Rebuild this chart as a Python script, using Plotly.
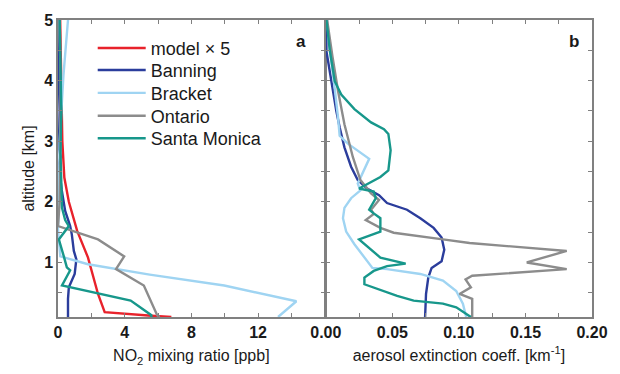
import plotly.graph_objects as go

# ---------------- data ----------------
series_names = ["model × 5", "Banning", "Bracket", "Ontario", "Santa Monica"]
series_colors = ["#e8222b", "#2b3d9c", "#9fd4f2", "#8c8c8c", "#17978b"]

# Panel a: NO2 mixing ratio [ppb] vs altitude [km]
no2_model_alt = [0.1, 0.12, 0.18, 0.48, 1.08, 1.52, 2.0, 2.4, 3.0, 3.5, 4.0, 4.5, 5.0]
no2_model_val = [6.8, 5.6, 2.8, 2.4, 1.8, 1.15, 0.65, 0.38, 0.26, 0.22, 0.18, 0.15, 0.13]

no2_banning_alt = [0.1, 0.4, 0.59, 0.81, 1.05, 1.19, 1.46, 1.6, 1.85, 2.2, 2.6, 2.75, 2.9, 3.5, 4.0, 4.5, 5.0]
no2_banning_val = [0.6, 0.6, 0.65, 1.0, 1.1, 0.95, 0.83, 0.73, 0.43, 0.22, 0.05, 0.15, 0.05, 0.1, 0.05, 0.08, 0.1]

no2_bracket_alt = [0.1, 0.36, 0.62, 0.8, 0.97, 1.05, 1.1, 1.55, 2.0, 3.0, 4.1, 5.0]
no2_bracket_val = [13.2, 14.3, 9.97, 5.5, 1.8, 0.83, 0.14, 0.0, 0.05, 0.1, 0.33, 0.6]

no2_ontario_alt = [0.1, 0.13, 0.62, 0.89, 1.1, 1.38, 1.6, 2.0, 3.0, 4.0, 5.0]
no2_ontario_val = [6.1, 5.95, 5.15, 3.48, 3.97, 2.4, 0.0, 0.1, 0.15, 0.15, 0.1]

no2_sm_alt = [0.1, 0.13, 0.37, 0.62, 0.87, 0.92, 1.1, 1.38, 1.6, 1.7, 1.9, 2.2, 2.8, 3.5, 4.2, 5.0]
no2_sm_val = [5.6, 5.6, 4.36, 0.24, 0.73, 0.53, 0.35, 0.05, 0.65, 0.43, 0.24, 0.2, 0.15, 0.2, 0.15, 0.1]

# Panel b: aerosol extinction coefficient [km^-1] vs altitude [km]
ext_banning_alt = [0.1, 0.48, 0.75, 0.91, 1.02, 1.21, 1.41, 1.57, 1.73, 1.87, 1.98, 2.11, 2.22, 2.36, 2.58, 2.9, 3.23, 3.5, 3.99, 4.48, 5.0]
ext_banning_val = [0.0746, 0.0753, 0.077, 0.0795, 0.087, 0.089, 0.087, 0.081, 0.071, 0.061, 0.046, 0.04, 0.031, 0.024, 0.019, 0.014, 0.0104, 0.0079, 0.0042, 0.0005, 0.0003]

ext_bracket_alt = [0.1, 0.32, 0.53, 0.70, 0.81, 0.89, 0.91, 1.08, 1.3, 1.51, 1.73, 1.9, 2.06, 2.19, 2.30, 2.71, 2.96, 3.09, 3.39, 4.0, 4.5, 5.0]
ext_bracket_val = [0.1055, 0.103, 0.098, 0.088, 0.071, 0.046, 0.035, 0.0289, 0.0215, 0.0153, 0.0129, 0.014, 0.019, 0.026, 0.024, 0.0326, 0.0166, 0.0104, 0.0092, 0.006, 0.003, 0.001]

ext_ontario_alt = [0.1, 0.40, 0.48, 0.59, 0.72, 0.78, 0.89, 1.0, 1.19, 1.30, 1.32, 1.38, 1.49, 1.57, 1.70, 1.80, 1.87, 2.03, 2.14, 2.36, 2.74, 3.28, 3.83, 4.4, 5.0]
ext_ontario_val = [0.110, 0.110, 0.1005, 0.109, 0.105, 0.110, 0.181, 0.151, 0.181, 0.114, 0.108, 0.088, 0.051, 0.041, 0.030, 0.036, 0.034, 0.040, 0.034, 0.026, 0.0203, 0.014, 0.0092, 0.005, 0.001]

ext_sm_alt = [0.1, 0.13, 0.26, 0.32, 0.37, 0.45, 0.56, 0.64, 0.75, 0.86, 0.94, 0.98, 1.08, 1.21, 1.38, 1.51, 1.73, 1.81, 1.87, 2.06, 2.17, 2.22, 2.3, 2.41, 2.52, 2.85, 3.12, 3.2, 3.31, 3.45, 3.53, 3.77, 3.99, 4.5, 5.0]
ext_sm_val = [0.109, 0.107, 0.098, 0.088, 0.066, 0.0536, 0.0388, 0.029, 0.029, 0.036, 0.046, 0.060, 0.041, 0.034, 0.025, 0.041, 0.041, 0.036, 0.0326, 0.0376, 0.036, 0.025, 0.0314, 0.041, 0.047, 0.0487, 0.047, 0.0437, 0.034, 0.026, 0.0215, 0.0116, 0.0067, 0.003, 0.0005]

no2_ticks = [0, 4, 8, 12]
ext_ticks = [0.00, 0.05, 0.10, 0.15, 0.20]
ext_ticktext = ["0.00", "0.05", "0.10", "0.15", "0.20"]
alt_ticks = [1, 2, 3, 4, 5]

# ---------------- figure ----------------
fig = go.Figure()
lw = 2.4
legend_ids = ["legend", "legend2", "legend3", "legend4", "legend5"]

panel_a = [
    (no2_model_val, no2_model_alt),
    (no2_banning_val, no2_banning_alt),
    (no2_bracket_val, no2_bracket_alt),
    (no2_ontario_val, no2_ontario_alt),
    (no2_sm_val, no2_sm_alt),
]
for i, (xv, yv) in enumerate(panel_a):
    fig.add_trace(go.Scatter(x=xv, y=yv, mode="lines", name=series_names[i],
                             line=dict(color=series_colors[i], width=lw),
                             xaxis="x", yaxis="y", legend=legend_ids[i]))

panel_b = [
    (ext_banning_val, ext_banning_alt, 1),
    (ext_bracket_val, ext_bracket_alt, 2),
    (ext_ontario_val, ext_ontario_alt, 3),
    (ext_sm_val, ext_sm_alt, 4),
]
for xv, yv, ci in panel_b:
    fig.add_trace(go.Scatter(x=xv, y=yv, mode="lines", name=series_names[ci],
                             line=dict(color=series_colors[ci], width=lw),
                             xaxis="x2", yaxis="y2", showlegend=False))

axcol = "#808080"
fam = "Liberation Sans, Arial, sans-serif"
tickfont = dict(family=fam, size=16, color="#1a1a1a", weight="bold")
titlefont = dict(family=fam, size=16, color="#1a1a1a")
common = dict(showline=True, linecolor=axcol, linewidth=1.5, mirror="ticks",
              ticks="inside", ticklen=4, tickcolor=axcol, tickwidth=1,
              showgrid=False, zeroline=False, tickfont=tickfont)

legend_tops = [0.967, 0.893, 0.816, 0.739, 0.663]
legend_layout = {}
for lid, ytop in zip(legend_ids, legend_tops):
    legend_layout[lid] = dict(x=0.065, y=ytop, xanchor="left", yanchor="top",
                              bgcolor="rgba(0,0,0,0)", borderwidth=0, itemwidth=48,
                              font=dict(family=fam, size=18, color="#1a1a1a"))

fig.update_layout(
    width=620, height=374,
    margin=dict(l=58, r=21, t=20, b=54),
    paper_bgcolor="white", plot_bgcolor="white",
    font=dict(family=fam, color="#1a1a1a"),
    xaxis=dict(domain=[0, 0.4995], range=[0, 16], tickvals=no2_ticks,
               minor=dict(dtick=2, ticks="inside", ticklen=4, tickcolor=axcol),
               title=dict(text="NO<sub>2</sub> mixing ratio [ppb]", font=titlefont, standoff=10),
               anchor="y", **common),
    yaxis=dict(domain=[0, 1], range=[0.1, 5], tickvals=alt_ticks,
               minor=dict(dtick=0.5, ticks="inside", ticklen=4, tickcolor=axcol),
               title=dict(text="altitude [km]", font=titlefont, standoff=6),
               anchor="x", **common),
    xaxis2=dict(domain=[0.5015, 1], range=[0, 0.2], tickvals=ext_ticks, ticktext=ext_ticktext,
                minor=dict(dtick=0.025, ticks="inside", ticklen=4, tickcolor=axcol),
                title=dict(text="aerosol extinction coeff. [km<sup>-1</sup>]", font=titlefont, standoff=10),
                anchor="y2", **common),
    yaxis2=dict(domain=[0, 1], range=[0.1, 5], tickvals=alt_ticks, showticklabels=False,
                minor=dict(dtick=0.5, ticks="inside", ticklen=4, tickcolor=axcol),
                anchor="x2", matches="y", **common),
    showlegend=True,
    annotations=[
        dict(text="<b>a</b>", x=0.455, y=0.927, xref="paper", yref="paper", showarrow=False,
             xanchor="center", yanchor="middle", font=dict(family=fam, size=17, color="#1a1a1a")),
        dict(text="<b>b</b>", x=0.967, y=0.927, xref="paper", yref="paper", showarrow=False,
             xanchor="center", yanchor="middle", font=dict(family=fam, size=17, color="#1a1a1a")),
    ],
    **legend_layout,
)

fig.write_html("out.html")
